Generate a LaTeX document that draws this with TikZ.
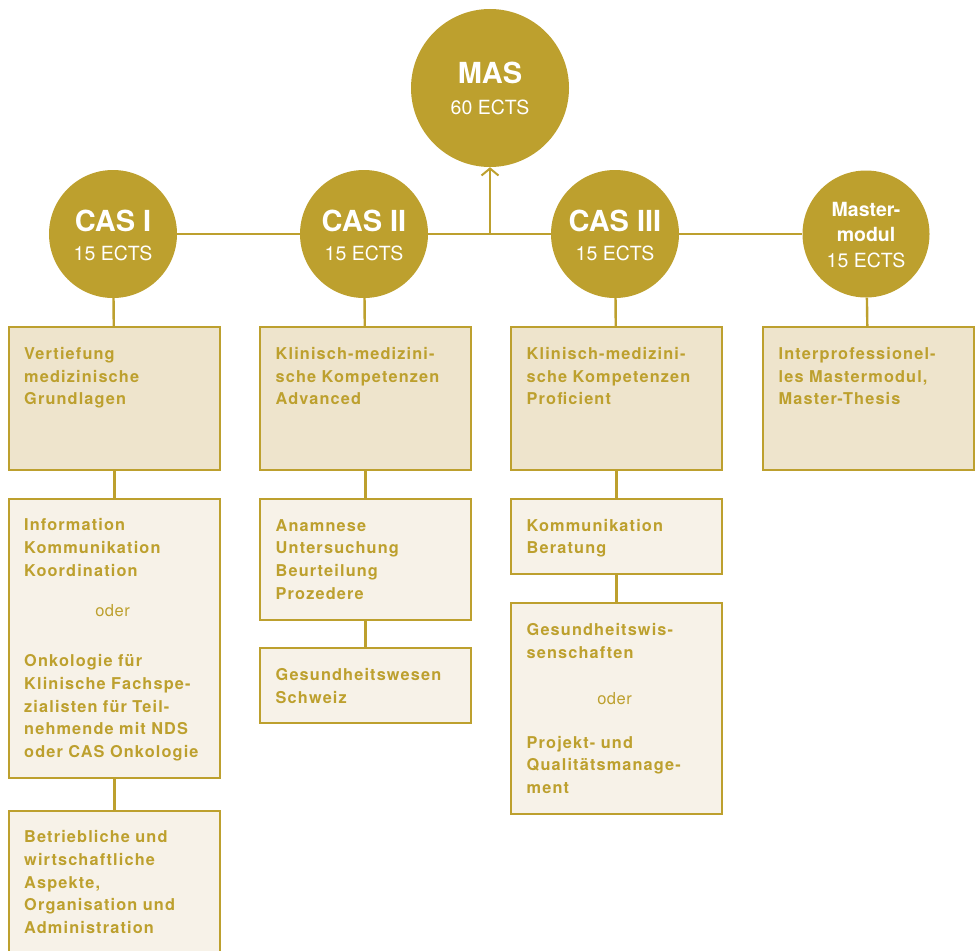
\documentclass[tikz,border=0pt]{standalone}
\usepackage{fontspec}
\setmainfont{TeX Gyre Heros}
\newfontfamily\boxfont[LetterSpace=7]{TeX Gyre Heros}
\newfontfamily\oderfont[LetterSpace=3]{TeX Gyre Heros}
\usetikzlibrary{arrows.meta}
\definecolor{gold}{HTML}{BDA02E}
\definecolor{fillA}{HTML}{EEE4CC}
\definecolor{fillB}{HTML}{F7F2E8}
\tikzset{
  conn/.style={draw=gold, line width=2.4pt},
  circ/.style={circle, fill=gold, draw=none, inner sep=0pt},
  boxA/.style={rectangle, draw=gold, line width=2.2pt, fill=fillA, anchor=north west, minimum width=210.5pt, inner sep=0pt},
  boxB/.style={boxA, fill=fillB},
  btext/.style={anchor=base west, inner sep=0pt, text=gold, text width=200pt, align=left,
     font=\boxfont\fontsize{16.3}{22.7}\selectfont\bfseries},
  otext/.style={anchor=base, inner sep=0pt, text=gold, font=\oderfont\fontsize{16.5}{22.7}\selectfont},
  ctitle/.style={anchor=base, inner sep=0pt, text=white, font=\fontsize{29}{30}\selectfont\bfseries},
  csub/.style={anchor=base, inner sep=0pt, text=white, font=\fontsize{19.5}{22}\selectfont},
  mtitle/.style={anchor=base, inner sep=0pt, text=white, font=\fontsize{19.5}{22}\selectfont\bfseries},
}
\begin{document}
\begin{tikzpicture}[x=1pt, y=-1pt]
\useasboundingbox (0,0) rectangle (979,950);
\begin{scope}
\clip (0,0) rectangle (979,950);
% circles
\node[circ, minimum size=158pt] (mas) at (490,88) {};
\node[circ, minimum size=128pt] (cas1) at (113,234) {};
\node[circ, minimum size=128pt] (cas2) at (364,234) {};
\node[circ, minimum size=128pt] (cas3) at (615,234) {};
\node[circ, minimum size=127pt] (mm) at (866,234) {};
% circle texts
\node[ctitle] (masT) at (490,83) {MAS};
\node[csub] (masS) at (490,114) {60 ECTS};
\node[ctitle] (c1T) at (113,231) {CAS I};
\node[csub] (c1S) at (113,260) {15 ECTS};
\node[ctitle] (c2T) at (364,231) {CAS II};
\node[csub] (c2S) at (364,260) {15 ECTS};
\node[ctitle] (c3T) at (615,231) {CAS III};
\node[csub] (c3S) at (615,260) {15 ECTS};
\node[mtitle] (mmT1) at (866,216.7) {Master-};
\node[mtitle] (mmT2) at (866,241.7) {modul};
\node[csub] (mmS) at (866,267.3) {15 ECTS};
% connectors between circles
\coordinate (j) at (490,234);
\draw[conn] (cas1) -- (cas2);
\draw[conn] (cas2) -- (cas3);
\draw[conn] (cas3) -- (mm);
\draw[conn, line width=2pt, -{Straight Barb[length=7pt, width=17pt, line width=2pt]}] (j) -- (mas);
% boxes column 1
\node[boxA, minimum height=143pt] (b11) at (8,326) {};
\node[boxB, minimum height=279pt] (b12) at (8,498) {};
\node[boxB, minimum height=160pt] (b13) at (8,810) {};
% column 2
\node[boxA, minimum height=143pt] (b21) at (259,326) {};
\node[boxB, minimum height=121pt] (b22) at (259,498) {};
\node[boxB, minimum height=75pt] (b23) at (259,647) {};
% column 3
\node[boxA, minimum height=143pt] (b31) at (510,326) {};
\node[boxB, minimum height=75pt] (b32) at (510,498) {};
\node[boxB, minimum height=211pt] (b33) at (510,602) {};
% column 4
\node[boxA, minimum height=143pt] (b41) at (762,326) {};
% vertical connectors
\draw[conn] (cas1) -- (b11);
\draw[conn] (b11) -- (b12);
\draw[conn] (b12) -- (b13);
\draw[conn] (cas2) -- (b21);
\draw[conn] (b21) -- (b22);
\draw[conn] (b22) -- (b23);
\draw[conn] (cas3) -- (b31);
\draw[conn] (b31) -- (b32);
\draw[conn] (b32) -- (b33);
\draw[conn] (mm) -- (b41);
% box texts
\node[btext] (t11) at (24,359.5) {Vertiefung\\medizinische\\Grundlagen};
\node[btext] (t12a) at (24,530.7) {Information\\Kommunikation\\Koordination};
\node[otext] (t12o) at (112.5,616) {oder};
\node[btext] (t12b) at (24,666.7) {Onkologie für\\Klinische Fachspe-\\zialisten für Teil-\\nehmende mit NDS\\oder CAS Onkologie};
\node[btext] (t13) at (24,842.7) {Betriebliche und\\wirtschaftliche\\Aspekte,\\Organisation und\\Administration};
\node[btext] (t21) at (275.5,359.5) {Klinisch-medizini-\\sche Kompetenzen\\Advanced};
\node[btext] (t22) at (275.5,531) {Anamnese\\Untersuchung\\Beurteilung\\Prozedere};
\node[btext] (t23) at (275.5,680.5) {Gesundheitswesen\\Schweiz};
\node[btext] (t31) at (526.5,359.5) {Klinisch-medizini-\\sche Kompetenzen\\Proficient};
\node[btext] (t32) at (526.5,531) {Kommunikation\\Beratung};
\node[btext] (t33a) at (526.5,635.5) {Gesundheitswis-\\senschaften};
\node[otext] (t33o) at (614.5,704) {oder};
\node[btext] (t33b) at (526.5,748) {Projekt- und\\Qualitätsmanage-\\ment};
\node[btext] (t41) at (778.5,359.5) {Interprofessionel-\\les Mastermodul,\\Master-Thesis};
\end{scope}
\end{tikzpicture}
\end{document}
